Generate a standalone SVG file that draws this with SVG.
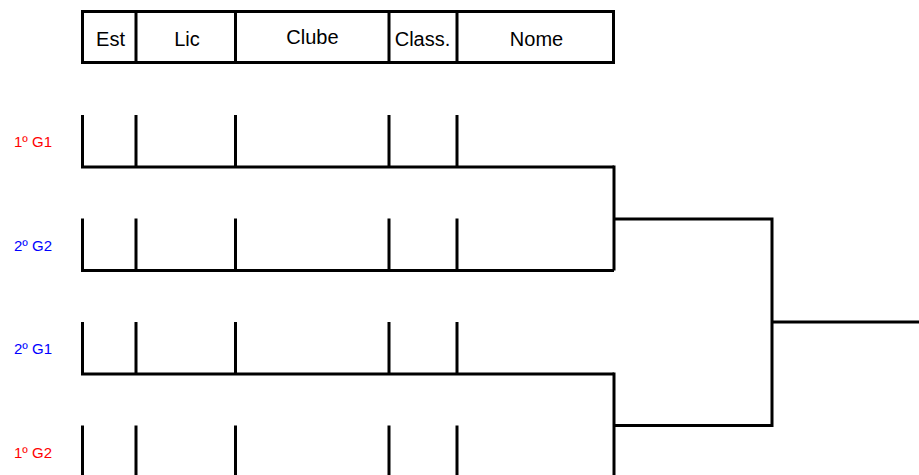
<svg xmlns="http://www.w3.org/2000/svg" width="919" height="475" viewBox="0 0 919 475">
<style>
.ln{fill:none;stroke:#000;stroke-width:3;stroke-linecap:butt;stroke-linejoin:miter}
.hd{font-family:"Liberation Sans",Arial,sans-serif;font-size:20px;fill:#000;text-anchor:middle}
.lb{font-family:"Liberation Sans",Arial,sans-serif;font-size:15px}
.red{fill:#ff0000}
.blue{fill:#0000ff}
</style>
<rect width="919" height="475" fill="#fff"/>
<g id="header">
<rect class="ln" x="82.5" y="11.5" width="531" height="51"/>
<path class="ln" d="M136 11.5V62.5M235.5 11.5V62.5M389 11.5V62.5M457 11.5V62.5"/>
<text class="hd" x="110.5" y="46">Est</text>
<text class="hd" x="187" y="46">Lic</text>
<text class="hd" x="312.5" y="43.5">Clube</text>
<text class="hd" x="422.5" y="46">Class.</text>
<text class="hd" x="536.5" y="46">Nome</text>
</g>
<g id="row1">
<path class="ln" d="M82.5 115V167H614M136 115V167M235.5 115V167M389 115V167M457 115V167"/>
<text class="lb red" x="14" y="147">1º G1</text>
</g>
<g id="row2">
<path class="ln" d="M82.5 218.5V270.5H614M136 218.5V270.5M235.5 218.5V270.5M389 218.5V270.5M457 218.5V270.5"/>
<text class="lb blue" x="14" y="250.5">2º G2</text>
</g>
<g id="row3">
<path class="ln" d="M82.5 322V374H614M136 322V374M235.5 322V374M389 322V374M457 322V374"/>
<text class="lb blue" x="14" y="354">2º G1</text>
</g>
<g id="row4">
<path class="ln" d="M82.5 425.5V477.5H614M136 425.5V477.5M235.5 425.5V477.5M389 425.5V477.5M457 425.5V477.5"/>
<text class="lb red" x="14" y="457.5">1º G2</text>
</g>
<g id="connectors">
<path class="ln" d="M614 165.5V270.5"/>
<path class="ln" d="M614 372.5V477.5"/>
<path class="ln" d="M614 219H772V425.5H614"/>
<path class="ln" d="M772 322H919"/>
</g>
</svg>
